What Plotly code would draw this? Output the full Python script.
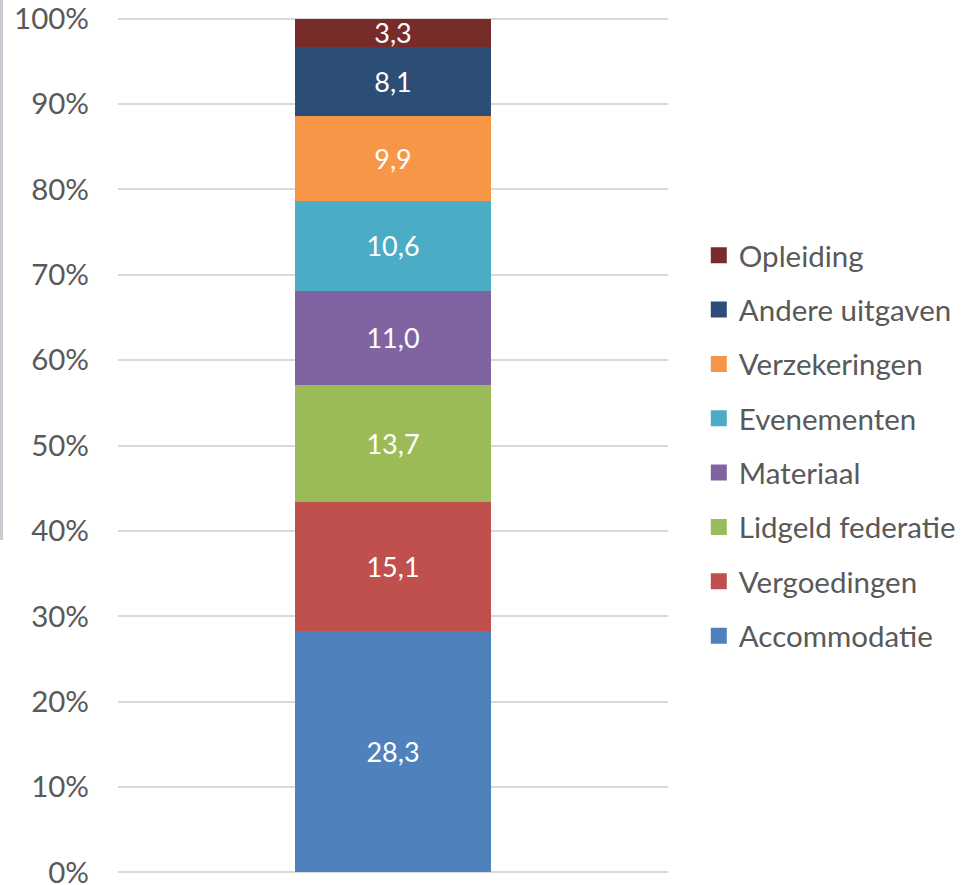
import plotly.graph_objects as go

# Expense categories, bottom of the stack first
categories = ["Accommodatie", "Vergoedingen", "Lidgeld federatie", "Materiaal",
              "Evenementen", "Verzekeringen", "Andere uitgaven", "Opleiding"]
shares = [28.3, 15.1, 13.7, 11.0, 10.6, 9.9, 8.1, 3.3]
colors = ["#4F81BD", "#C0504D", "#9BBB59", "#8064A2",
          "#4BACC6", "#F79646", "#2C4D75", "#772C2A"]
x_cat = ["Uitgaven"]
tick_vals = [0, 10, 20, 30, 40, 50, 60, 70, 80, 90, 100]
tick_text = [f"{v}%" for v in tick_vals]

FONT = "Lato, Carlito, Calibri, sans-serif"
W, H = 971, 885
L, R, T, B = 118, 303, 17, 11
PAD = 0.2  # small headroom so the 0% and 100% gridlines are drawn

fig = go.Figure()
for name, val, col in zip(categories, shares, colors):
    fig.add_trace(go.Bar(
        x=x_cat, y=[val], name=name, showlegend=False,
        marker=dict(color=col, line=dict(width=0)),
        text=[f"{val:.1f}".replace(".", ",")],
        textposition="inside", insidetextanchor="middle",
        constraintext="none",
        textfont=dict(family=FONT, size=27, color="white"),
        hoverinfo="name+y",
    ))

# legend entries with square swatches, top of the stack listed first
for name, col in zip(reversed(categories), reversed(colors)):
    fig.add_trace(go.Scatter(
        x=[None], y=[None], mode="markers", name=name, legendgroup=name,
        marker=dict(symbol="square", size=16, color=col),
        showlegend=True, hoverinfo="skip",
    ))

fig.update_layout(
    width=W, height=H,
    margin=dict(l=L, r=R, t=T, b=B, autoexpand=False),
    barmode="stack", bargap=0.645,
    plot_bgcolor="white", paper_bgcolor="white",
    font=dict(family=FONT, color="#595959"),
    showlegend=True,
    legend=dict(
        x=1.056, xanchor="left", xref="paper",
        y=0.5, yanchor="middle",
        traceorder="grouped", tracegroupgap=13,
        font=dict(family=FONT, size=29.5, color="#595959"),
        itemwidth=30, bgcolor="rgba(0,0,0,0)",
    ),
    xaxis=dict(showticklabels=False, showgrid=False, zeroline=False,
               showline=False, ticks=""),
    yaxis=dict(range=[-PAD, 100 + PAD], tickvals=tick_vals, ticktext=tick_text,
               showgrid=True, gridcolor="#D9D9D9", gridwidth=2,
               zeroline=False, showline=False, ticks="",
               ticklabelstandoff=28, ticklabeloverflow="allow",
               tickfont=dict(family=FONT, size=29.5, color="#595959")),
)

# thin grey frame edge along the left side of the page
fig.add_shape(type="line", xref="paper", yref="paper",
              x0=-(L - 1.5) / (W - L - R), x1=-(L - 1.5) / (W - L - R),
              y0=1 + T / (H - T - B), y1=(H - 540 - B) / (H - T - B),
              line=dict(color="#C9CDD3", width=3), layer="above")

fig.write_html("out.html")
